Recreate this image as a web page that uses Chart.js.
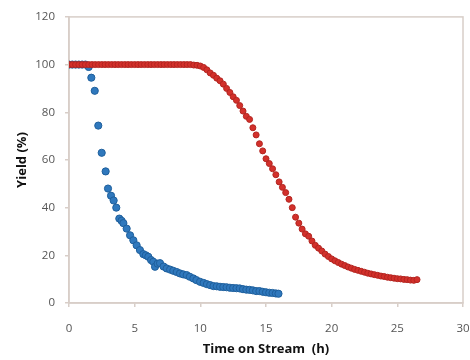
<!DOCTYPE html>
<html>
<head>
<meta charset="utf-8">
<script src="https://cdn.jsdelivr.net/npm/chart.js@4"></script>
<style>
  html, body { margin: 0; padding: 0; background: #fff; }
  #wrap { width: 470px; height: 360px; }
</style>
</head>
<body>
<div id="wrap"><canvas id="yieldChart"></canvas></div>
<script>
// blue series (fast deactivation)
const blueTime = [0, 0.25, 0.5, 0.75, 1.0, 1.25, 1.5, 1.7, 1.96, 2.23, 2.49, 2.79, 2.97, 3.2, 3.4, 3.6,
  3.83, 4.0, 4.14, 4.39, 4.65, 4.9, 5.15, 5.4, 5.66, 5.85, 6.04, 6.25, 6.42, 6.55, 6.75, 6.93,
  7.2, 7.44, 7.7, 7.94, 8.2, 8.45, 8.7, 8.96, 9.2, 9.47, 9.7, 9.98, 10.25, 10.5, 10.75, 11,
  11.25, 11.5, 11.75, 12, 12.25, 12.5, 12.75, 13, 13.25, 13.5, 13.75, 14, 14.25, 14.5, 14.75,
  15, 15.25, 15.5, 15.75, 15.95];
const blueYield = [100, 100, 100, 100, 100, 100, 99, 94.5, 89, 74.4, 63, 55.2, 48, 45, 43, 40,
  35.4, 34.5, 33.5, 31.2, 28.4, 26.3, 24.2, 22.2, 20.5, 20, 19.4, 18, 17.3, 15.2, 16.5, 16.7,
  15.3, 14.5, 14, 13.5, 13, 12.4, 12, 11.7, 11, 10.3, 9.6, 8.9, 8.4, 7.9, 7.5, 7.1,
  7, 6.8, 6.7, 6.6, 6.4, 6.3, 6.2, 6.1, 5.8, 5.6, 5.5, 5.3, 5.0, 5.0, 4.7,
  4.5, 4.3, 4.2, 4.0, 3.9];

// red series (slow deactivation)
const redTime = [0, 0.25, 0.5, 0.75, 1, 1.25, 1.5, 1.75, 2, 2.25, 2.5, 2.75, 3, 3.25, 3.5, 3.75,
  4, 4.25, 4.5, 4.75, 5, 5.25, 5.5, 5.75, 6, 6.25, 6.5, 6.75, 7, 7.25, 7.5, 7.75,
  8, 8.25, 8.5, 8.75, 9, 9.25, 9.5, 9.75, 10, 10.25, 10.5, 10.75, 11, 11.25, 11.5, 11.75,
  12, 12.25, 12.5, 12.75, 13, 13.25, 13.5, 13.75, 14, 14.25, 14.5, 14.75, 15, 15.25, 15.5, 15.75,
  16, 16.25, 16.5, 16.75, 17, 17.25, 17.5, 17.75, 18, 18.25, 18.5, 18.75, 19, 19.25, 19.5, 19.75,
  20, 20.25, 20.5, 20.75, 21, 21.25, 21.5, 21.75, 22, 22.25, 22.5, 22.75, 23, 23.25, 23.5, 23.75,
  24, 24.25, 24.5, 24.75, 25, 25.25, 25.5, 25.75, 26, 26.25, 26.5];
const redYield = [100, 100, 100, 100, 100, 100, 100, 100, 100, 100, 100, 100, 100, 100, 100, 100,
  100, 100, 100, 100, 100, 100, 100, 100, 100, 100, 100, 100, 100, 100, 100, 100,
  100, 100, 100, 100, 100, 100, 99.8, 99.7, 99.4, 98.8, 97.8, 96.5, 95.5, 94.3, 93.2, 91.8,
  90, 88.3, 86.5, 85, 82.8, 80.5, 78.3, 77, 73.5, 70.5, 66.8, 63.8, 60.5, 58.5, 56.3, 53.8,
  50.8, 48.5, 46.3, 43.5, 40, 36, 33.5, 31, 29, 28, 26, 24.2, 23, 21.8, 20.5, 19.5,
  18.5, 17.7, 17, 16.3, 15.7, 15.1, 14.6, 14.1, 13.7, 13.3, 12.9, 12.5, 12.2, 11.9, 11.6, 11.3,
  11.1, 10.8, 10.6, 10.4, 10.2, 10.1, 9.9, 9.8, 9.6, 9.5, 9.8];

const xTicks = [0, 5, 10, 15, 20, 25, 30];
const yTicks = [0, 20, 40, 60, 80, 100, 120];

const axisColor = '#d8cec8';

function pairs(xs, ys) {
    return xs.map((x, i) => ({ x: x, y: ys[i] }));
}

// plot-area outline like the Excel original
const frame = {
    id: 'frame',
    beforeDatasetsDraw(chart) {
        const a = chart.chartArea;
        const c = chart.ctx;
        c.save();
        c.strokeStyle = axisColor;
        c.lineWidth = 1.5;
        c.strokeRect(a.left, a.top, a.right - a.left, a.bottom - a.top);
        c.restore();
    }
};

const ctx = document.getElementById('yieldChart').getContext('2d');
new Chart(ctx, {
    type: 'scatter',
    data: {
        datasets: [
            {
                label: 'Catalyst B',
                data: pairs(redTime, redYield),
                backgroundColor: '#d3302b',
                borderColor: '#b22520',
                borderWidth: 1,
                pointRadius: 3,
                order: 0
            },
            {
                label: 'Catalyst A',
                data: pairs(blueTime, blueYield),
                backgroundColor: '#2f78bd',
                borderColor: '#1e5f9c',
                borderWidth: 1,
                pointRadius: 3.6,
                order: 1
            }
        ]
    },
    plugins: [frame],
    options: {
        responsive: true,
        maintainAspectRatio: false,
        animation: false,
        layout: { padding: { top: 16, right: 7, left: 0, bottom: 0 } },
        plugins: {
            legend: { display: false },
            tooltip: { enabled: false }
        },
        scales: {
            x: {
                type: 'linear',
                min: 0,
                max: 30,
                afterBuildTicks: s => { s.ticks = xTicks.map(v => ({ value: v })); },
                afterFit: s => { s.height = 57; s.paddingRight = 0; s.paddingLeft = 0; },
                grid: { drawOnChartArea: false, color: axisColor, tickLength: 4, lineWidth: 1.5 },
                border: { color: axisColor, width: 1.5 },
                ticks: { color: '#555', padding: 15, font: { family: 'Open Sans', size: 11.5 } },
                title: {
                    display: true,
                    text: 'Time on Stream  (h)',
                    color: '#111',
                    font: { family: 'Open Sans', size: 13, weight: 'bold' },
                    padding: { top: 0, bottom: 3 }
                }
            },
            y: {
                min: 0,
                max: 120,
                afterBuildTicks: s => { s.ticks = yTicks.map(v => ({ value: v })); },
                afterFit: s => { s.width = 69; },
                grid: { drawOnChartArea: false, color: axisColor, tickLength: 4, lineWidth: 1.5 },
                border: { color: axisColor, width: 1.5 },
                ticks: { color: '#555', padding: 10, font: { family: 'Open Sans', size: 11.5 } },
                title: {
                    display: true,
                    text: 'Yield (%)',
                    color: '#111',
                    font: { family: 'Open Sans', size: 13, weight: 'bold' },
                    padding: { top: 14, bottom: 0 }
                }
            }
        }
    }
});
</script>
</body>
</html>
